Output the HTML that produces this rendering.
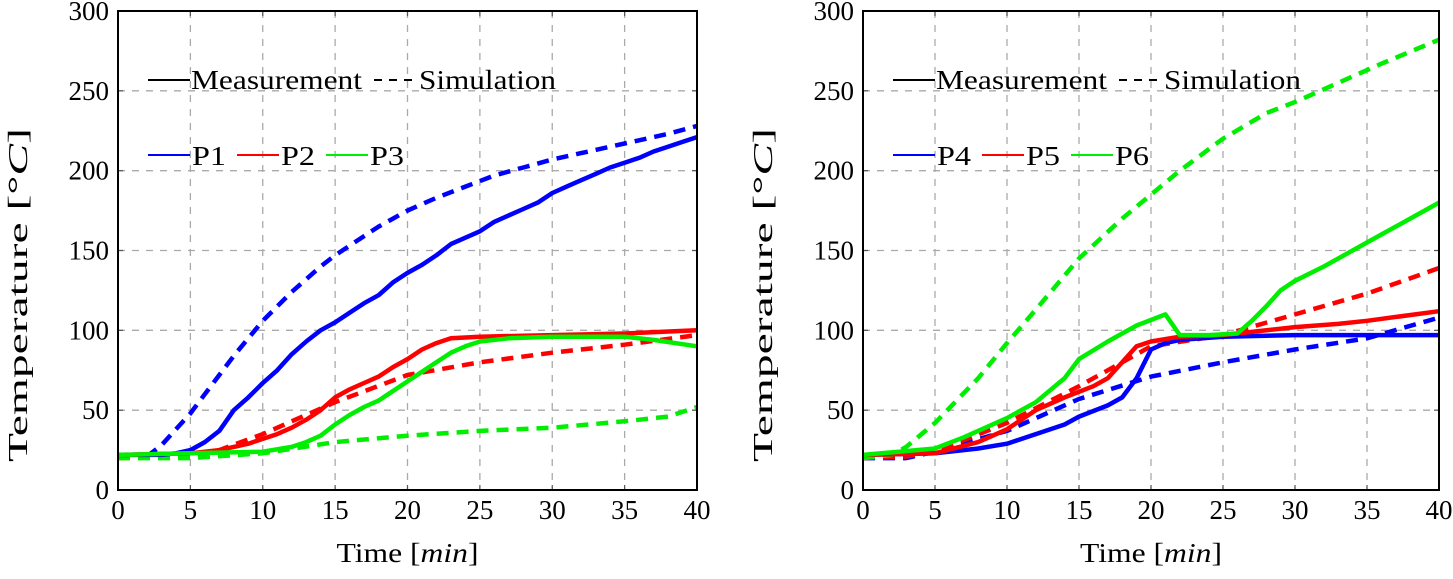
<!DOCTYPE html>
<html><head><meta charset="utf-8"><style>
body{margin:0;background:#fff;width:1453px;height:574px;overflow:hidden}
svg{font-family:"Liberation Serif",serif}
</style></head><body>
<svg id="chart" width="1453" height="574"></svg>
<script>
const xTicks=[0,5,10,15,20,25,30,35,40];
const yTicks=[0,50,100,150,200,250,300];
// Left panel
const p1MeasX=[0,3,4,5,6,7,8,9,10,11,12,13,14,15,16,17,18,19,20,21,22,23,24,25,26,27,28,29,30,31,32,33,34,35,36,37,38,39,40];
const p1MeasY=[22,22,23,25,30,37,50,58,67,75,85,93,100,105,111,117,122,130,136,141,147,154,158,162,168,172,176,180,186,190,194,198,202,205,208,212,215,218,221];
const p1SimX=[2,3,4,5,6,7,8,9,10,11,12,13,14,15,16,17,18,19,20,22,24,26,28,30,32,34,36,38,40];
const p1SimY=[21,28,38,48,60,72,84,95,106,115,124,132,140,147,153,159,165,170,175,183,190,197,202,207,211,215,219,223,228];
const p2MeasX=[0,5,6,7,8,9,10,11,12,13,14,15,16,17,18,19,20,21,22,23,25,30,35,40];
const p2MeasY=[22,23,24,25,27,29,32,35,39,44,50,58,63,67,71,77,82,88,92,95,96,97,98,100];
const p2SimX=[0,5,7,10,15,20,25,30,35,40];
const p2SimY=[20,21,25,35,55,72,80,86,91,97];
const p3MeasX=[0,5,10,12,13,14,15,16,17,18,19,20,21,22,23,24,25,27,30,35,37,40];
const p3MeasY=[22,23,24,27,30,34,41,47,52,56,62,68,74,80,86,90,93,95,96,96,94,90];
const p3SimX=[0,5,10,15,20,25,30,35,38,40];
const p3SimY=[20,20,23,30,34,37,39,43,46,52];
// Right panel
const p4MeasX=[0,5,8,10,12,14,15,17,18,19,20,21,22,25,30,35,40];
const p4MeasY=[22,23,26,29,35,41,46,53,58,70,88,92,94,96,97,97,97];
const p4SimX=[0,3,5,10,15,20,25,30,35,40];
const p4SimY=[20,20,24,37,57,71,80,88,95,108];
const p5MeasX=[0,5,8,10,11,12,14,16,17,18,19,20,22,25,27,30,33,35,40];
const p5MeasY=[22,23,30,38,44,50,58,65,70,80,90,93,96,97,99,102,104,106,112];
const p5SimX=[0,3,5,10,15,20,25,30,35,40];
const p5SimY=[20,21,24,42,65,90,97,110,123,139];
const p6MeasX=[0,5,7,10,12,14,15,17,19,21,22,24,26,27,28,29,30,32,34,36,38,40];
const p6MeasY=[22,26,33,45,55,70,82,93,103,110,97,97,98,106,115,125,131,140,150,160,170,180];
const p6SimX=[0,2,3,5,8,10,12,15,18,20,22,25,28,30,33,36,40];
const p6SimY=[20,22,27,42,70,92,113,145,170,185,200,220,236,243,255,267,282];

const NS="http://www.w3.org/2000/svg";
const svg=document.getElementById('chart');
function el(t,a,p){const e=document.createElementNS(NS,t);for(const k in a)e.setAttribute(k,a[k]);(p||svg).appendChild(e);return e;}
const yTop=11,yBot=490;
function panel(x0,x1,series,labels,prefix){
  const g=el('g',{});
  
  
  const sx=v=>x0+(x1-x0)*v/40, sy=v=>yBot-(yBot-yTop)*v/300;
  xTicks.forEach(t=>{
    if(t>0&&t<40){const l=el('line',{x1:sx(t),x2:sx(t),y1:yTop,y2:yBot,stroke:'#aaa','stroke-width':1.3,'stroke-dasharray':'7 7'},g);
      }
    el('line',{x1:sx(t),x2:sx(t),y1:yBot,y2:yBot-5,stroke:'#555','stroke-width':1.2},g);
    el('line',{x1:sx(t),x2:sx(t),y1:yTop,y2:yTop+5,stroke:'#555','stroke-width':1.2},g);
    const tx=el('text',{x:sx(t),y:yBot+29,'text-anchor':'middle','font-size':27},g);tx.textContent=t;
    
  });
  yTicks.forEach(t=>{
    if(t>0&&t<300){const l=el('line',{x1:x0,x2:x1,y1:sy(t),y2:sy(t),stroke:'#aaa','stroke-width':1.3,'stroke-dasharray':'7 7'},g);
      }
    el('line',{x1:x0,x2:x0+5,y1:sy(t),y2:sy(t),stroke:'#555','stroke-width':1.2},g);
    el('line',{x1:x1,x2:x1-5,y1:sy(t),y2:sy(t),stroke:'#555','stroke-width':1.2},g);
    const tx=el('text',{x:x0-9,y:sy(t)+9,'text-anchor':'end','font-size':27},g);tx.textContent=t;
    
  });
  series.forEach(s=>{
    const pts=s.x.map((v,i)=>sx(v).toFixed(1)+','+sy(s.y[i]).toFixed(1)).join(' ');
    const pl=el('polyline',{points:pts,fill:'none',stroke:s.c,'stroke-width':4.5,'stroke-linejoin':'round'},g);
    if(s.d)pl.setAttribute('stroke-dasharray','12 8');
    
  });
  const fr=el('rect',{x:x0,y:yTop,width:x1-x0,height:yBot-yTop,fill:'none',stroke:'#000','stroke-width':2},g);
  
  const lx=x0+30;
  const lg=el('g',{},g);
  el('line',{x1:lx,x2:lx+42,y1:80,y2:80,stroke:'#000','stroke-width':2},lg);
  let t=el('text',{x:lx+43,y:89,'font-size':27,textLength:171,lengthAdjust:'spacingAndGlyphs'},lg);t.textContent='Measurement';
  el('line',{x1:lx+226,x2:lx+270,y1:80,y2:80,stroke:'#000','stroke-width':2,'stroke-dasharray':'8 7'},lg);
  t=el('text',{x:lx+271,y:89,'font-size':27,textLength:137,lengthAdjust:'spacingAndGlyphs'},lg);t.textContent='Simulation';
  const lg2=el('g',{},g);
  const cols=['#00f','#f00','#0e0'];
  labels.forEach((lb,i)=>{
    const bx=lx+i*89;
    el('line',{x1:bx,x2:bx+42,y1:155,y2:155,stroke:cols[i],'stroke-width':2},lg2);
    const tt=el('text',{x:bx+44,y:165,'font-size':27,textLength:34,lengthAdjust:'spacingAndGlyphs'},lg2);tt.textContent=lb;
    
  });
  const xt=el('text',{x:(x0+x1)/2,y:562,'text-anchor':'middle','font-size':27,textLength:142,lengthAdjust:'spacingAndGlyphs'},g);
  xt.appendChild(document.createTextNode('Time ['));
  const ts=el('tspan',{'font-style':'italic'},xt);ts.textContent='min';
  xt.appendChild(document.createTextNode(']'));
  
  const yt=el('text',{x:0,y:0,'text-anchor':'middle','font-size':27,textLength:334,lengthAdjust:'spacingAndGlyphs',transform:`translate(${x0-91},295) rotate(-90)`},g);
  yt.appendChild(document.createTextNode('Temperature [°'));
  const ts2=el('tspan',{'font-style':'italic'},yt);ts2.textContent='C';
  yt.appendChild(document.createTextNode(']'));
  
}
panel(118,697,[
 {x:p1SimX,y:p1SimY,c:'#00f',d:1,n:'p1-simulation'},
 {x:p2SimX,y:p2SimY,c:'#f00',d:1,n:'p2-simulation'},
 {x:p3SimX,y:p3SimY,c:'#0e0',d:1,n:'p3-simulation'},
 {x:p1MeasX,y:p1MeasY,c:'#00f',n:'p1-measurement'},
 {x:p2MeasX,y:p2MeasY,c:'#f00',n:'p2-measurement'},
 {x:p3MeasX,y:p3MeasY,c:'#0e0',n:'p3-measurement'}],['P1','P2','P3'],'left');
panel(863,1439,[
 {x:p4SimX,y:p4SimY,c:'#00f',d:1,n:'p4-simulation'},
 {x:p5SimX,y:p5SimY,c:'#f00',d:1,n:'p5-simulation'},
 {x:p6SimX,y:p6SimY,c:'#0e0',d:1,n:'p6-simulation'},
 {x:p4MeasX,y:p4MeasY,c:'#00f',n:'p4-measurement'},
 {x:p5MeasX,y:p5MeasY,c:'#f00',n:'p5-measurement'},
 {x:p6MeasX,y:p6MeasY,c:'#0e0',n:'p6-measurement'}],['P4','P5','P6'],'right');
</script>
</body></html>
